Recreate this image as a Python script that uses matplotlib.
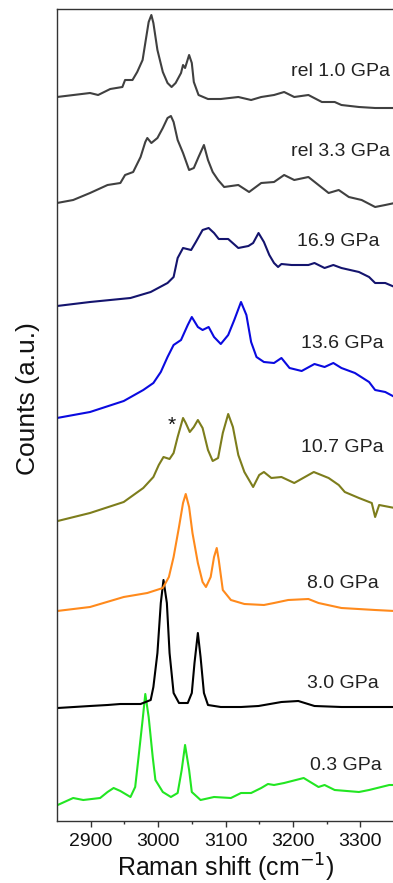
import matplotlib
matplotlib.use("Agg")
from matplotlib import pyplot as plt

plt.rcParams['font.family'] = ['Liberation Sans', 'DejaVu Sans']

# Raman spectra (shift in cm^-1, intensity in a.u. above each trace's baseline)
labels = ['0.3 GPa', '3.0 GPa', '8.0 GPa', '10.7 GPa', '13.6 GPa',
          '16.9 GPa', 'rel 3.3 GPa', 'rel 1.0 GPa']
colors = ['#22e622', '#000000', '#ff8a1c', '#7d7d1c', '#0a0ae0',
          '#14146e', '#404040', '#404040']
offsets = [16, 113, 210, 300, 403, 515, 618, 724]

shift_03 = [2851, 2874, 2889, 2914, 2925, 2934, 2944, 2959, 2966, 2971, 2977, 2981,
            2986, 2992, 2996, 3007, 3019, 3029, 3035, 3040, 3046, 3050, 3063, 3083,
            3108, 3123, 3138, 3153, 3163, 3172, 3187, 3216, 3238, 3247, 3262, 3298,
            3313, 3343, 3351]
counts_03 = [0, 7, 5, 7, 13, 17, 14, 8, 18, 48, 85, 111,
             88, 48, 25, 13, 8, 12, 35, 60, 35, 13, 5, 8,
             7, 12, 12, 17, 21, 20, 22, 27, 18, 20, 15, 13,
             15, 20, 20]

shift_30 = [2851, 2899, 2925, 2944, 2974, 2989, 2993, 2999, 3004, 3008, 3013, 3017,
            3023, 3031, 3044, 3050, 3054, 3059, 3063, 3068, 3074, 3093, 3123, 3149,
            3183, 3208, 3232, 3272, 3351]
counts_30 = [0, 2, 3, 4, 4, 8, 21, 55, 105, 128, 105, 55,
             15, 5, 5, 15, 45, 75, 51, 15, 3, 1, 1, 2,
             6, 7, 2, 1, 1]

shift_80 = [2850, 2899, 2949, 2984, 3007, 3016, 3023, 3031, 3037, 3041, 3046, 3051,
            3059, 3066, 3071, 3078, 3083, 3087, 3090, 3096, 3108, 3128, 3157, 3172,
            3193, 3223, 3238, 3272, 3322, 3351]
counts_80 = [0, 4, 14, 18, 23, 34, 54, 84, 108, 117, 104, 78,
             48, 29, 24, 34, 54, 63, 51, 21, 11, 7, 6, 8,
             11, 12, 8, 3, 1, 0]

shift_107 = [2851, 2899, 2949, 2978, 2993, 3001, 3008, 3017, 3023, 3029, 3037, 3041,
             3047, 3053, 3059, 3066, 3074, 3081, 3089, 3096, 3104, 3111, 3119, 3128,
             3141, 3150, 3157, 3168, 3183, 3202, 3231, 3253, 3268, 3277, 3298, 3317,
             3322, 3328, 3351]
counts_107 = [0, 8, 19, 33, 44, 56, 64, 62, 68, 84, 103, 98,
              89, 94, 101, 93, 71, 60, 63, 88, 107, 94, 66, 49,
              34, 46, 49, 43, 44, 38, 49, 43, 36, 29, 23, 18,
              4, 16, 13]

shift_136 = [2850, 2899, 2949, 2978, 2993, 3004, 3014, 3023, 3034, 3044, 3050, 3059,
             3066, 3075, 3083, 3093, 3104, 3113, 3123, 3131, 3138, 3146, 3157, 3172,
             3183, 3195, 3213, 3232, 3247, 3260, 3272, 3292, 3313, 3322, 3337, 3351]
counts_136 = [0, 6, 17, 28, 35, 46, 61, 73, 78, 93, 101, 91,
              88, 91, 81, 74, 83, 98, 116, 103, 76, 61, 56, 55,
              60, 50, 47, 54, 51, 55, 50, 45, 36, 28, 26, 21]

shift_169 = [2850, 2899, 2959, 2989, 3014, 3023, 3029, 3037, 3049, 3056, 3066, 3075,
             3083, 3090, 3104, 3119, 3134, 3141, 3149, 3157, 3165, 3172, 3178, 3183,
             3198, 3223, 3232, 3247, 3260, 3272, 3298, 3313, 3322, 3337, 3351]
counts_169 = [0, 4, 8, 14, 23, 29, 48, 58, 56, 64, 76, 78,
              73, 67, 67, 58, 60, 63, 73, 64, 51, 43, 39, 42,
              41, 41, 43, 38, 41, 38, 34, 29, 23, 23, 19]

shift_r33 = [2850, 2874, 2899, 2925, 2944, 2951, 2963, 2974, 2981, 2984, 2990, 2999,
             3007, 3014, 3019, 3023, 3029, 3037, 3046, 3053, 3060, 3068, 3074, 3081,
             3089, 3098, 3119, 3135, 3153, 3172, 3187, 3202, 3223, 3238, 3253, 3268,
             3283, 3302, 3322, 3337, 3351]
counts_r33 = [0, 3, 10, 18, 20, 28, 31, 46, 61, 65, 60, 65,
              75, 85, 87, 81, 63, 50, 33, 35, 46, 58, 43, 31,
              23, 16, 18, 11, 20, 21, 28, 23, 26, 18, 10, 13,
              6, 3, -4, -2, 0]

shift_r10 = [2850, 2899, 2911, 2929, 2947, 2951, 2962, 2969, 2977, 2981, 2986, 2990,
             2993, 2999, 3007, 3014, 3020, 3026, 3034, 3037, 3040, 3046, 3050, 3053,
             3060, 3074, 3093, 3119, 3138, 3153, 3172, 3187, 3202, 3223, 3243, 3262,
             3272, 3298, 3322, 3351]
counts_r10 = [0, 4, 2, 8, 10, 17, 17, 25, 37, 54, 75, 82,
              74, 47, 25, 14, 10, 14, 24, 32, 29, 42, 34, 15,
              2, -2, -2, 0, -3, 0, 2, 5, 0, 2, -5, -5,
              -8, -10, -11, -11]

shifts = [shift_03, shift_30, shift_80, shift_107, shift_136, shift_169, shift_r33, shift_r10]
counts = [counts_03, counts_30, counts_80, counts_107, counts_136, counts_169, counts_r33, counts_r10]

# label placement (right edge in cm^-1, height in a.u.)
label_x = [3332, 3327, 3328, 3335, 3335, 3328, 3344, 3344]
label_y = [55, 138, 238, 373, 477, 579, 669, 749]

fig = plt.figure(figsize=(3.93, 8.83), dpi=100)
ax = fig.add_axes([57 / 393, 62 / 883, 337 / 393, 812 / 883])

for x, y, off, c in zip(shifts, counts, offsets, colors):
    ax.plot(x, [v + off for v in y], color=c, lw=1.5, solid_joinstyle='round')

for lab, lx, ly in zip(labels, label_x, label_y):
    ax.text(lx, ly, lab, ha='right', va='center', fontsize=14, color='#222222')

# marker over the 10.7 GPa shoulder
ax.text(3020, offsets[3] + 96, '*', ha='center', va='center', fontsize=15, color='#111111')

ax.set_xlim(2850, 3350)
ax.set_ylim(0, 812)
ax.set_xticks([2900, 3000, 3100, 3200, 3300])
ax.set_xticks([2950, 3050, 3150, 3250, 3350], minor=True)
ax.set_yticks([])
ax.tick_params(axis='x', which='major', direction='out', length=4, width=1,
               labelsize=14, pad=5, colors='#333333', labelcolor='#111111')
ax.tick_params(axis='x', which='minor', direction='out', length=2, width=1, colors='#333333')
ax.spines['right'].set_visible(False)
for s in ['left', 'top', 'bottom']:
    ax.spines[s].set_color('#333333')
    ax.spines[s].set_linewidth(1.0)

ax.set_xlabel('Raman shift (cm$^{-1}$)', fontsize=18, labelpad=1, color='#111111')
ax.set_ylabel('Counts (a.u.)', fontsize=19, color='#111111')
ax.yaxis.set_label_coords(-0.05, 0.52)

fig.savefig('out.png', dpi=100)
plt.close(fig)
